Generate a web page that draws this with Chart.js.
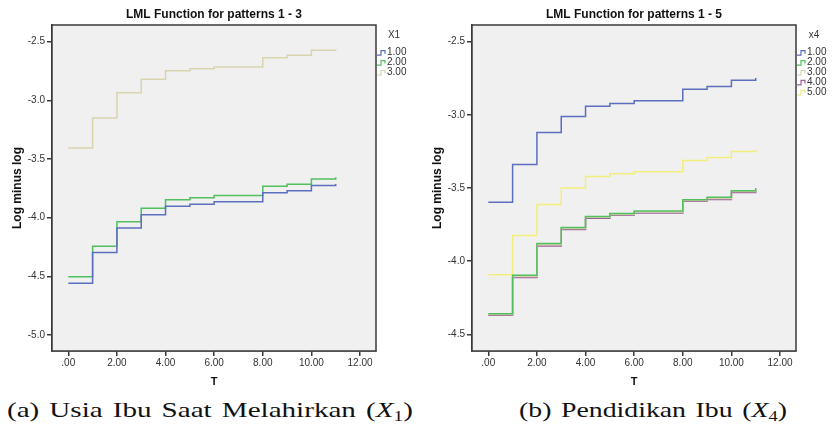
<!DOCTYPE html>
<html>
<head>
<meta charset="utf-8">
<script src="https://cdn.jsdelivr.net/npm/chart.js@4/dist/chart.umd.min.js"></script>
<style>
  html,body{margin:0;padding:0;background:#fff;}
  #wrap{position:relative;width:835px;height:439px;overflow:hidden;background:#fff;}
  .box{position:absolute;top:0;height:392px;}
  .cap{position:absolute;top:397px;font-family:"Liberation Serif","DejaVu Serif",serif;font-size:21px;color:#111;white-space:nowrap;line-height:26px;transform-origin:0 0;word-spacing:2px;}
  .cap sub{font-size:14px;vertical-align:-4px;line-height:0;}
</style>
</head>
<body>
<div id="wrap">
  <div class="box" style="left:0;width:420px;"><canvas id="c1"></canvas></div>
  <div class="box" style="left:420px;width:415px;"><canvas id="c2"></canvas></div>
  <div class="cap" id="capA" data-w="406" style="left:7px;">(a) Usia Ibu Saat Melahirkan (<i>X</i><sub>1</sub>)</div>
  <div class="cap" id="capB" data-w="268" style="left:519px;">(b) Pendidikan Ibu (<i>X</i><sub>4</sub>)</div>
</div>
<script>
// ---- data ----
const timePoints = [0, 1, 2, 3, 4, 5, 6, 8, 9, 10, 11];
const xTickLabels = ['.00', '2.00', '4.00', '6.00', '8.00', '10.00', '12.00'];
const xTickValues = [0, 2, 4, 6, 8, 10, 12];

// Chart (a): X1
const x1Groups = ['1.00', '2.00', '3.00'];
const x1Group1 = [-4.559, -4.297, -4.088, -3.975, -3.902, -3.885, -3.864, -3.788, -3.771, -3.726, -3.712];
const x1Group2 = [-4.503, -4.243, -4.034, -3.919, -3.847, -3.830, -3.811, -3.732, -3.715, -3.670, -3.656];
const x1Group3 = [-3.406, -3.150, -2.936, -2.820, -2.748, -2.730, -2.716, -2.637, -2.616, -2.574, -2.565];
const yTicksA = [-2.5, -3.0, -3.5, -4.0, -4.5, -5.0];

// Chart (b): x4
const x4Groups = ['1.00', '2.00', '3.00', '4.00', '5.00'];
const x4Group1 = [-3.598, -3.339, -3.121, -3.011, -2.941, -2.923, -2.903, -2.825, -2.807, -2.764, -2.748];
const x4Group2 = [-4.359, -4.097, -3.879, -3.770, -3.694, -3.675, -3.657, -3.580, -3.564, -3.518, -3.500];
const x4Group3 = [-4.364, -4.104, -3.888, -3.777, -3.700, -3.681, -3.664, -3.585, -3.571, -3.524, -3.510];
const x4Group4 = [-4.370, -4.111, -3.897, -3.784, -3.707, -3.687, -3.671, -3.591, -3.578, -3.530, -3.520];
const x4Group5 = [-4.093, -3.825, -3.612, -3.500, -3.421, -3.403, -3.389, -3.312, -3.292, -3.251, -3.235];
const yTicksB = [-2.5, -3.0, -3.5, -4.0, -4.5];

// ---- styles ----
const COLORS = {'1.00':'#5b6ebf','2.00':'#4fc05c','3.00':'#d9d3ae','4.00':'#9c5e9c','5.00':'#f2ee7c'};
const SANS = '"Liberation Sans", Arial, sans-serif';
const AXIS_COLOR = '#3a3a3a';
const TEXT_COLOR = '#333';

function series(label, values){
  return {
    label: label,
    data: timePoints.map((t, i) => ({x: t, y: values[i]})),
    borderColor: COLORS[label],
    backgroundColor: COLORS[label],
    borderWidth: 1.5,
    pointRadius: 0,
    stepped: true,
    fill: false
  };
}

const frame = {
  id: 'frame',
  beforeDatasetsDraw(chart){
    const {ctx, chartArea: a} = chart;
    ctx.save();
    ctx.fillStyle = '#f0f0f0';
    ctx.fillRect(a.left, a.top, a.right - a.left, a.bottom - a.top);
    ctx.restore();
  },
  afterDraw(chart, args, opts){
    const {ctx, chartArea: a} = chart;
    ctx.save();
    ctx.strokeStyle = AXIS_COLOR;
    ctx.lineWidth = 1.5;
    ctx.strokeRect(a.left, a.top, a.right - a.left, a.bottom - a.top);
    // title
    ctx.fillStyle = '#111';
    ctx.font = 'bold 12px ' + SANS;
    ctx.textAlign = 'center';
    ctx.textBaseline = 'middle';
    ctx.fillText(opts.title, (a.left + a.right) / 2, 15);
    // legend
    ctx.font = '10px ' + SANS;
    ctx.fillStyle = TEXT_COLOR;
    ctx.fillText(opts.legendTitle, 394, 35);
    ctx.textAlign = 'left';
    chart.data.datasets.forEach((ds, i) => {
      const y = 52.7 + i * 9.9;
      const x0 = 378;
      ctx.strokeStyle = ds.borderColor;
      ctx.lineWidth = 1.2;
      ctx.beginPath();
      ctx.moveTo(x0 - 1, y + 2.5);
      ctx.lineTo(x0 + 3, y + 2.5);
      ctx.lineTo(x0 + 3, y - 2);
      ctx.lineTo(x0 + 7, y - 2);
      ctx.lineTo(x0 + 7, y + 1);
      ctx.stroke();
      ctx.fillStyle = TEXT_COLOR;
      ctx.fillText(ds.label, x0 + 9, y);
    });
    ctx.restore();
  }
};

function makeChart(id, datasets, yMin, yMax, yTicks, title, legendTitle, rightPad){
  return new Chart(document.getElementById(id), {
    type: 'line',
    data: {datasets: datasets},
    plugins: [frame],
    options: {
      responsive: true,
      maintainAspectRatio: false,
      animation: false,
      layout: {padding: {left: 0, right: rightPad, top: 25, bottom: 0}},
      plugins: {
        legend: {display: false},
        tooltip: {enabled: false},
        frame: {title: title, legendTitle: legendTitle}
      },
      scales: {
        x: {
          type: 'linear',
          min: -0.67, max: 12.657,
          afterBuildTicks: s => { s.ticks = xTickValues.map(v => ({value: v})); },
          afterFit: s => { s.height = 41; },
          ticks: {
            callback: (v) => xTickLabels[xTickValues.indexOf(v)],
            color: TEXT_COLOR, font: {family: SANS, size: 10}, padding: 1,
            maxRotation: 0, autoSkip: false
          },
          grid: {drawOnChartArea: false, drawTicks: true, tickLength: 5, color: AXIS_COLOR, lineWidth: 1.5},
          border: {display: true, color: AXIS_COLOR, width: 1.5},
          title: {display: true, text: 'T', color: '#111', font: {family: SANS, size: 11, weight: 'bold'}, padding: {top: 0, bottom: 3}}
        },
        y: {
          type: 'linear',
          min: yMin, max: yMax,
          afterBuildTicks: s => { s.ticks = yTicks.map(v => ({value: v})); },
          afterFit: s => { s.width = 52; },
          ticks: {
            callback: v => v.toFixed(1),
            color: TEXT_COLOR, font: {family: SANS, size: 10}, padding: 2, autoSkip: false
          },
          grid: {drawOnChartArea: false, drawTicks: true, tickLength: 5, color: AXIS_COLOR, lineWidth: 1.5},
          border: {display: true, color: AXIS_COLOR, width: 1.5},
          title: {display: true, text: 'Log minus log', color: '#111', font: {family: SANS, size: 12, weight: 'bold'}, padding: {top: 10, bottom: 0}}
        }
      }
    }
  });
}

makeChart('c1', [series('1.00', x1Group1), series('2.00', x1Group2), series('3.00', x1Group3)],
  -5.136, -2.358, yTicksA, 'LML Function for patterns 1 - 3', 'X1', 44);
makeChart('c2', [series('1.00', x4Group1), series('2.00', x4Group2), series('3.00', x4Group3), series('4.00', x4Group4), series('5.00', x4Group5)],
  -4.614, -2.386, yTicksB, 'LML Function for patterns 1 - 5', 'x4', 39);

// stretch captions horizontally to the reference widths
document.querySelectorAll('.cap').forEach(el => {
  const target = +el.dataset.w;
  const w = el.getBoundingClientRect().width;
  el.style.transform = 'scaleX(' + (target / w).toFixed(3) + ')';
});
</script>
</body>
</html>
